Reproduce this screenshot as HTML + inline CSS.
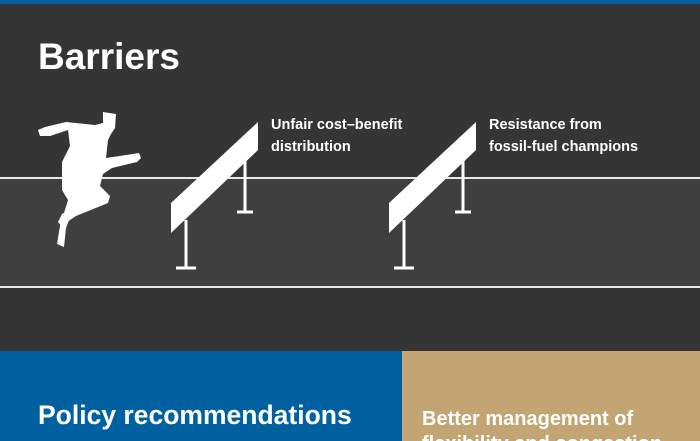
<html><head><style>
html,body{margin:0;width:700px;height:441px;overflow:hidden}
body{background:#353535;font-family:"Liberation Sans",sans-serif;position:relative}
.t{position:absolute;color:#fff;font-weight:bold;white-space:nowrap}
</style></head><body>
<div style="position:absolute;left:0;top:0;width:700px;height:4px;background:#0a5fa0"></div>
<div style="position:absolute;left:0;top:177px;width:700px;height:111px;background:#3f3f3f;border-top:2px solid #e8e8e8;border-bottom:2px solid #e8e8e8;box-sizing:border-box"></div>
<div class="t" style="left:38px;top:36px;font-size:37px">Barriers</div>
<div class="t" style="left:271px;top:114px;font-size:14.5px;line-height:22px">Unfair cost–benefit<br>distribution</div>
<div class="t" style="left:489px;top:114px;font-size:14.5px;line-height:22px">Resistance from<br>fossil-fuel champions</div>
<svg style="position:absolute;left:0;top:0" width="700" height="441">
<g fill="#fff" stroke="#fff">
<g id="h">
<line x1="245" y1="160" x2="245" y2="212" stroke-width="3"/>
<line x1="237" y1="212" x2="253" y2="212" stroke-width="3"/>
<line x1="186" y1="220" x2="186" y2="268" stroke-width="3"/>
<line x1="176" y1="268" x2="196" y2="268" stroke-width="3"/>
<polygon points="171,203 258,122 258,150 171,233" stroke="none"/>
</g>
<use href="#h" transform="translate(218,0)"/>
<polygon stroke="none" points="103,112 116,114 115,128 111,134 108,140 106,158 133,154 139,153 141,158 137,162 112,168 103,174 100,186 110,196 108,203 76,216 64,224 62,227 58,222 62,214 74,207 66,228 64,247 57,244 60,226 68,200 62,190 62,162 70,146 68,130 50,136 40,136 38,130 45,127 66,122 95,125 103,123"/>
</g>
</svg>
<div style="position:absolute;left:0;top:351px;width:402px;height:90px;background:#0060a0"></div>
<div style="position:absolute;left:402px;top:351px;width:298px;height:90px;background:#c2a572"></div>
<div class="t" style="left:38px;top:400px;font-size:26.5px">Policy recommendations</div>
<div class="t" style="left:422px;top:407px;font-size:20px;line-height:25px">Better management of<br>flexibility and congestion</div>
</body></html>
